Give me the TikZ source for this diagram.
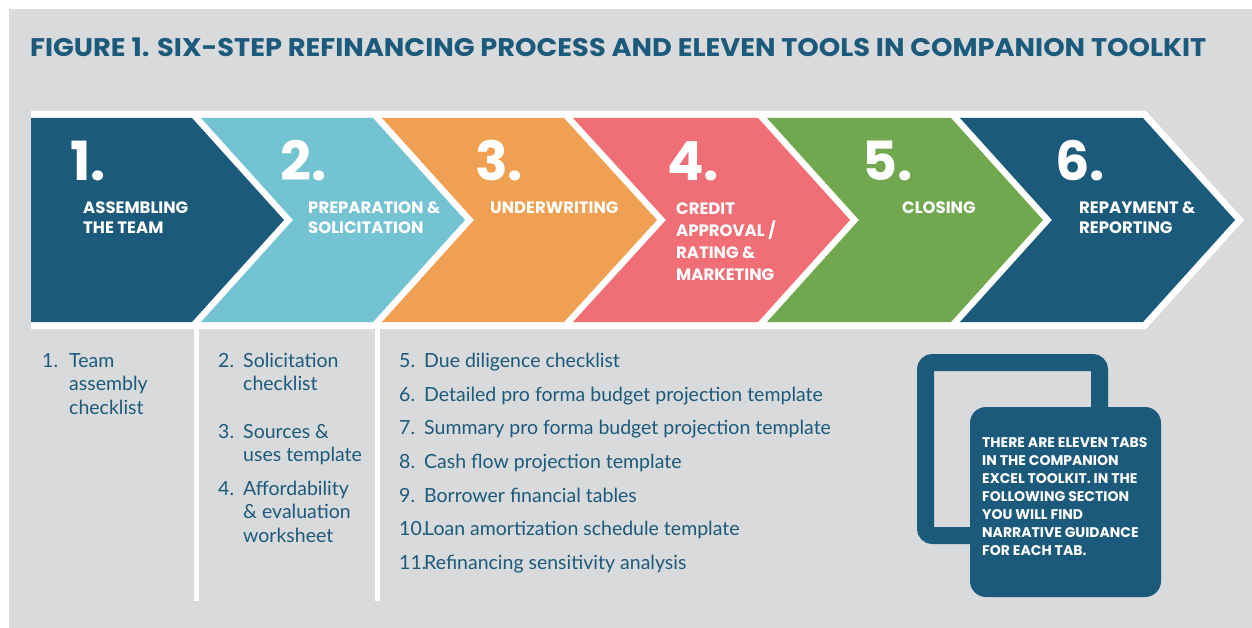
\documentclass[tikz,border=0pt]{standalone}
\usepackage{fontspec}
\setmainfont{Lato}
\newfontfamily\headfont{Poppins}
\definecolor{paper}{HTML}{D9DADC}
\definecolor{navy}{HTML}{1C5A7B}
\definecolor{sky}{HTML}{74C3D3}
\definecolor{peach}{HTML}{F0A052}
\definecolor{coral}{HTML}{F06E75}
\definecolor{leaf}{HTML}{70A74F}
\begin{document}
\begin{tikzpicture}[x=1pt,y=-1pt,
  title/.style={anchor=base west,inner sep=0,text=navy,font=\headfont\bfseries\fontsize{25.5}{25.5}\selectfont},
  num/.style={anchor=base west,inner sep=0,text=white,font=\headfont\bfseries\fontsize{54}{54}\selectfont},
  steplabel/.style={anchor=base west,inner sep=0,align=left,text=white,font=\headfont\bfseries\fontsize{16.5}{20}\selectfont},
  nr/.style={anchor=base west,inner sep=0,text=navy,font=\fontsize{19.5}{23.7}\selectfont},
  item/.style={anchor=base west,inner sep=0,align=left,text=navy,font=\fontsize{19.5}{23.7}\selectfont}]
\useasboundingbox (0,0) rectangle (1252,628);
\fill[white] (0,0) rectangle (1252,628);
\fill[paper] (9,9) rectangle (1252,628);
\node[title] (title) at (30,57) {\scalebox{1.07}[1]{FIGURE 1. SIX-STEP REFINANCING PROCESS AND ELEVEN TOOLS IN COMPANION TOOLKIT}};
\fill[white] (31,111) -- (1146,111) -- (1244,220) -- (1146,329) -- (31,329) -- cycle;
\fill[navy] (31,118) -- (192,118) -- (284,220) -- (192,322) -- (31,322) -- cycle;
\fill[sky] (201,118) -- (373,118) -- (465,220) -- (373,322) -- (201,322) -- (293,220) -- cycle;
\fill[peach] (382,118) -- (564,118) -- (657,220) -- (564,322) -- (382,322) -- (474,220) -- cycle;
\fill[coral] (573,118) -- (758,118) -- (850,220) -- (758,322) -- (573,322) -- (666,220) -- cycle;
\fill[leaf] (767,118) -- (951,118) -- (1043,220) -- (951,322) -- (767,322) -- (859,220) -- cycle;
\fill[navy] (960,118) -- (1143,118) -- (1235,220) -- (1143,322) -- (960,322) -- (1052,220) -- cycle;
\draw[white,line width=5pt] (196.5,329) -- (196.5,601);
\draw[white,line width=5pt] (377,329) -- (377,601);
% base anchors of the multi-line nodes sit on their last line
\node[num] (n1) at (70,181) {1.};
\node[num] (n2) at (280,181) {2.};
\node[num] (n3) at (475,181) {3.};
\node[num] (n4) at (667,181) {4.};
\node[num] (n5) at (862,181) {5.};
\node[num] (n6) at (1055,181) {6.};
\node[steplabel] (l1) at (83,234) {ASSEMBLING\\THE TEAM};
\node[steplabel] (l2) at (308,234) {PREPARATION \&\\SOLICITATION};
\node[steplabel] (l3) at (490,214) {UNDERWRITING};
\node[steplabel,font=\headfont\bfseries\fontsize{16.5}{21.7}\selectfont] (l4) at (676,280) {CREDIT\\APPROVAL /\\RATING \&\\MARKETING};
\node[steplabel] (l5) at (902,214) {CLOSING};
\node[steplabel] (l6) at (1079,234) {REPAYMENT \&\\REPORTING};
\node[nr] (k1) at (42,367) {1.};
\node[item] (t1) at (69,414.4) {Team\\assembly\\checklist};
\node[nr] (k2) at (218,367) {2.};
\node[item] (t2) at (243,390.7) {Solicitation\\checklist};
\node[nr] (k3) at (218,438) {3.};
\node[item] (t3) at (243,461.7) {Sources \&\\uses template};
\node[nr] (k4) at (218,495) {4.};
\node[item] (t4) at (243,542.4) {Affordability\\\& evaluation\\worksheet};
\node[nr] (k5) at (399,367) {5.};
\node[item] (t5) at (424,367) {Due diligence checklist};
\node[nr] (k6) at (399,401) {6.};
\node[item] (t6) at (424,401) {Detailed pro forma budget projection template};
\node[nr] (k7) at (399,434) {7.};
\node[item] (t7) at (424,434) {Summary pro forma budget projection template};
\node[nr] (k8) at (399,468) {8.};
\node[item] (t8) at (424,468) {Cash flow projection template};
\node[nr] (k9) at (399,502) {9.};
\node[item] (t9) at (424,502) {Borrower financial tables};
\node[nr] (k10) at (399,535) {10.};
\node[item] (t10) at (424,535) {Loan amortization schedule template};
\node[nr] (k11) at (399,569) {11.};
\node[item] (t11) at (424,569) {Refinancing sensitivity analysis};
\draw[navy,line width=17pt,rounded corners=7pt] (925.5,362.5) rectangle (1099.5,535.5);
\fill[navy,rounded corners=16pt] (970,407) rectangle (1161,597);
\node[steplabel,font=\headfont\bfseries\fontsize{14}{18}\selectfont] (note) at (982,555) {THERE ARE ELEVEN TABS\\IN THE COMPANION\\EXCEL TOOLKIT. IN THE\\FOLLOWING SECTION\\YOU WILL FIND\\NARRATIVE GUIDANCE\\FOR EACH TAB.};
\end{tikzpicture}
\end{document}
